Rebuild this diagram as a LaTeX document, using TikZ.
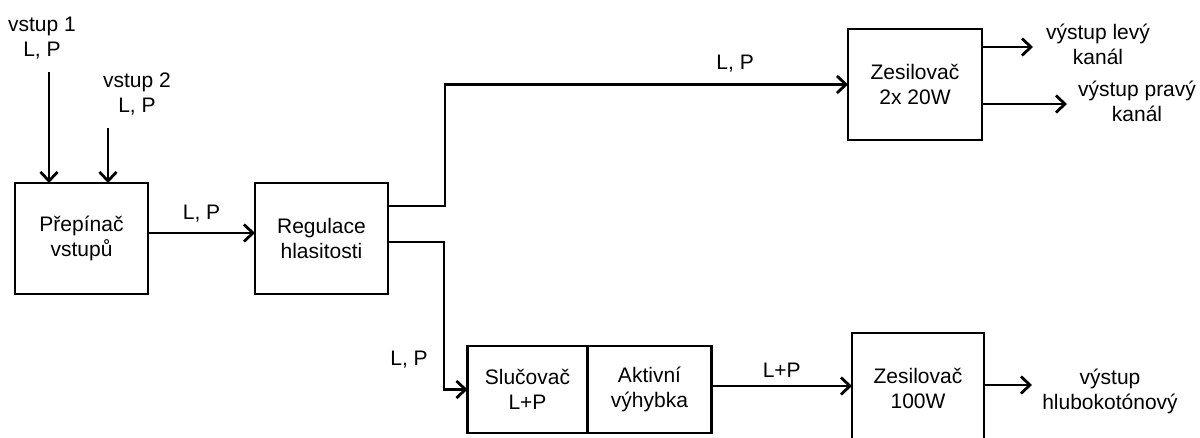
\documentclass[tikz,border=0pt]{standalone}
\usepackage{fontspec}
\setmainfont{Liberation Sans}
\usetikzlibrary{arrows.meta,positioning}
\tikzset{
  font=\fontsize{21}{25}\selectfont,
  >={Straight Barb[length=9pt,width=17pt]},
  blok/.style={draw=black, line width=2.8pt, fill=white, align=center,
    inner sep=0pt, outer sep=0pt, minimum width=133pt, minimum height=111pt},
  flow/.style={->, line width=2.8pt},
  popis/.style={align=center, inner sep=0pt}
}
\begin{document}
\begin{tikzpicture}[x=1pt,y=-1pt]
  \useasboundingbox (0,0) rectangle (1200,437);
  \clip (0,0) rectangle (1200,437);

  % bloky
  \node[blok] (prep) at (81.5,238.5) {Přepínač\\vstupů};
  \node[blok] (reg)  at (321.5,238.5) {Regulace\\hlasitosti};
  \node[blok, minimum width=134pt] (zes1) at (915,84.5) {Zesilovač\\2x 20W};
  \node[blok, minimum width=120pt, minimum height=87pt] (slu) at (527.5,389.5) {Slučovač\\L+P};
  \node[blok, minimum width=124pt, minimum height=87pt, anchor=west] (akt) at (slu.east) {Aktivní\\výhybka};
  \node[blok, minimum width=132pt] (zes2) at (918,388.5) {Zesilovač\\100W};

  % vstupy
  \node[popis] (v1) at (42,38) {vstup 1\\L, P};
  \node[popis] (v2) at (137,94) {vstup 2\\L, P};
  \coordinate (in1) at (49,72);
  \coordinate (in2) at (108,128);
  \draw[flow] (in1) -- (in1 |- prep.north);
  \draw[flow] (in2) -- (in2 |- prep.north);

  % spoje
  \draw[flow] (prep.east |- 0,233) -- (reg.west |- 0,233)
     node[popis, midway, above=9pt] (lp1) {L, P};
  \coordinate (odb1) at (445,206);
  \coordinate (odb2) at (444,242);
  \draw[flow] (reg.east |- odb1) -- (odb1) |- (zes1.west)
     node[popis, pos=0.86, above=11pt] (lp2) {L, P};
  \draw[flow] (reg.east |- odb2) -- (odb2) |- (slu.west);
  \node[popis] (lp3) at (409,360) {L, P};
  \draw[flow] (akt.east |- 0,386) -- (zes2.west |- 0,386)
     node[popis, midway, above=7pt] (lp4) {L+P};

  % vystupy
  \coordinate (o1) at (1033,47);
  \coordinate (o2) at (1067,104);
  \coordinate (o3) at (1032,385);
  \draw[flow] (zes1.east |- o1) -- (o1);
  \draw[flow] (zes1.east |- o2) -- (o2);
  \draw[flow] (zes2.east |- o3) -- (o3);
  \node[popis] (t1) at (1098,44) {výstup levý\\kanál};
  \node[popis] (t2) at (1137,101) {výstup pravý\\kanál};
  \node[popis] (t3) at (1110,391) {výstup\\hlubokotónový};
\end{tikzpicture}
\end{document}
